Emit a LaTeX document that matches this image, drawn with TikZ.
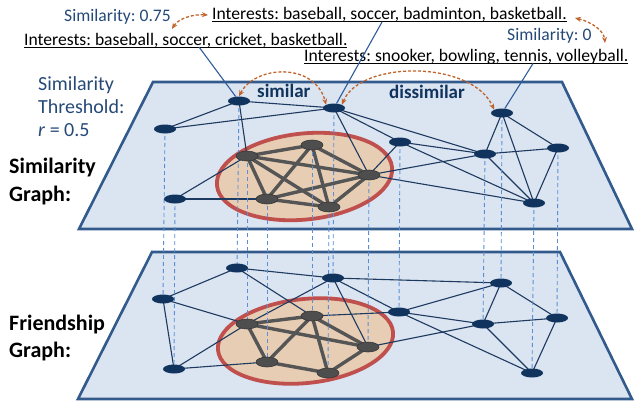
\documentclass[tikz,border=0pt]{standalone}
\usepackage{fontspec}
\setmainfont{Carlito}
\frenchspacing
\usetikzlibrary{arrows.meta,shapes.geometric}
\definecolor{planefill}{RGB}{219,228,241}
\definecolor{planeline}{RGB}{50,90,140}
\definecolor{navy}{RGB}{16,52,94}
\definecolor{edgec}{RGB}{30,58,96}
\definecolor{cliquec}{RGB}{85,85,85}
\definecolor{cliquen}{RGB}{78,78,78}
\definecolor{tanfill}{RGB}{230,205,180}
\definecolor{redline}{RGB}{192,80,77}
\definecolor{dashc}{RGB}{91,142,214}
\definecolor{orangec}{RGB}{192,98,42}
\definecolor{txtblue}{RGB}{38,74,120}
\definecolor{ptrc}{RGB}{46,92,154}
\newcommand\myul[1]{\setbox0\hbox{#1}\rlap{\rule[-2.6pt]{\wd0}{1.1pt}}\box0}
\tikzset{
  plane/.style={draw=planeline, fill=planefill, line width=2.6pt, line join=miter},
  clus/.style={draw=redline, fill=tanfill, line width=3.8pt},
  vn/.style={ellipse, fill=navy, minimum width=22pt, minimum height=9pt, inner sep=0},
  cn/.style={ellipse, fill=cliquen, draw=cliquen!70!black, line width=0.6pt, minimum width=22pt, minimum height=10pt, inner sep=0},
  ed/.style={draw=edgec, line width=1.1pt},
  ced/.style={draw=cliquec, line width=3.4pt},
  vdash/.style={draw=dashc, line width=0.9pt, dash pattern=on 4pt off 3pt},
  simarc/.style={draw=orangec, line width=1.3pt, dash pattern=on 3pt off 2pt, {Stealth[length=6pt,width=5pt]}-{Stealth[length=6pt,width=5pt]}},
  ptr/.style={draw=ptrc, line width=1.1pt},
  txt/.style={font=\fontsize{17.6}{20}\selectfont, inner sep=0, anchor=base west},
  thr/.style={font=\fontsize{20}{23}\selectfont, inner sep=0, anchor=base west, text=txtblue},
  gl/.style={font=\fontsize{22}{25}\selectfont\bfseries, inner sep=0, anchor=base west},
  sl/.style={font=\fontsize{19}{22}\selectfont\bfseries, inner sep=0, anchor=base west, text=navy},
}
\begin{document}
\begin{tikzpicture}[x=1pt,y=-1pt]
\useasboundingbox (0,0) rectangle (634,405);
% planes
\draw[plane] (153,82) -- (562,82) -- (632,229) -- (79,229) -- cycle;
\draw[plane] (152,252) -- (560,252) -- (632,399) -- (78,399) -- cycle;
% cluster ellipses
\draw[clus, rotate around={6:(304.5,176.5)}] (304.5,176.5) ellipse (88pt and 43pt);
\draw[clus, rotate around={6:(305.5,341)}] (305.5,341) ellipse (88pt and 42pt);
% node coordinates (upper)
\path
 (239,101) coordinate (A)
 (334,108) coordinate (B)
 (165,129) coordinate (C)
 (175,199) coordinate (D)
 (247,156) coordinate (E)
 (312,145) coordinate (F)
 (369,175) coordinate (G)
 (267,199) coordinate (H)
 (329,207) coordinate (I)
 (400,142) coordinate (J)
 (502,113) coordinate (K)
 (485,154) coordinate (L)
 (558,148) coordinate (M)
 (534,203) coordinate (N);
% lower
\path
 (237,268) coordinate (A2)
 (333,278) coordinate (B2)
 (163,299) coordinate (C2)
 (174,369) coordinate (D2)
 (247,324) coordinate (E2)
 (312,316) coordinate (F2)
 (368,347) coordinate (G2)
 (267,362) coordinate (H2)
 (328,373) coordinate (I2)
 (399,312) coordinate (J2)
 (501,283) coordinate (K2)
 (483,324) coordinate (L2)
 (557,318) coordinate (M2)
 (532,373) coordinate (N2);
% upper edges
\foreach \u/\v in {A/B,A/C,A/E,C/B,D/E,D/H,B/G,B/J,B/L,G/J,G/L,G/N,J/L,J/N,K/L,K/M,K/N,L/M,L/N,M/N}
  \draw[ed] (\u) -- (\v);
\foreach \u/\v in {E/F,E/G,E/H,E/I,F/G,F/H,F/I,G/H,G/I,H/I}
  \draw[ced] (\u) -- (\v);
% lower edges
\foreach \u/\v in {C2/A2,C2/D2,C2/E2,A2/B2,A2/F2,D2/E2,D2/H2,B2/E2,B2/G2,B2/J2,B2/K2,F2/J2,G2/L2,J2/K2,J2/L2,J2/N2,K2/L2,K2/M2,L2/M2,L2/N2,M2/N2}
  \draw[ed] (\u) -- (\v);
\foreach \u/\v in {E2/F2,E2/G2,E2/H2,F2/H2,F2/I2,F2/G2,G2/I2,H2/I2}
  \draw[ced] (\u) -- (\v);
% vertical dashed correspondences
\foreach \n in {A,B,C,D,E,F,G,H,I,J,K,L,M,N}
  \draw[vdash] (\n) -- (\n2);
% nodes
\foreach \n in {A,B,C,D,J,K,L,M,N} {
  \node[vn] (n\n) at (\n) {};
  \node[vn] (n\n2) at (\n2) {};
}
\foreach \n in {E,F,G,H,I} {
  \node[cn] (n\n) at (\n) {};
  \node[cn] (n\n2) at (\n2) {};
}
% texts
\node[txt, text=txtblue] (s075) at (64,21.5) {Similarity: 0.75};
\node[txt] (int1) at (212,19.5) {\myul{Interests: baseball, soccer, badminton, basketball.}};
\node[txt] (int2) at (24,45) {\myul{Interests: baseball, soccer, cricket, basketball.}};
\node[txt, text=txtblue] (s0) at (507,40.5) {Similarity: 0};
\node[txt] (int3) at (304,61) {\myul{Interests: snooker, bowling, tennis, volleyball.}};
\node[thr] (th1) at (38,90) {Similarity};
\node[thr] (th2) at (38,113) {Threshold:};
\node[thr] (th3) at (38,136) {\textit{r} = 0.5};
\node[gl] (sg1) at (9,173.5) {Similarity};
\node[gl] (sg2) at (9,201) {Graph:};
\node[gl] (fg1) at (9,330) {Friendship};
\node[gl] (fg2) at (9,357) {Graph:};
\node[sl] (simw) at (257,97) {similar};
\node[sl] (dissw) at (389,98) {dissimilar};
% pointer lines
\coordinate (p1) at (199,47);
\coordinate (p2) at (382,22);
\coordinate (p3) at (533,63.5);
\draw[ptr] (p1) -- (nA);
\draw[ptr] (p2) -- (nB);
\draw[ptr] (p3) -- (nK);
% similarity arcs
\coordinate (a1s) at (172,29);
\coordinate (a1e) at (208,15);
\draw[simarc] (a1s) .. controls (178,19) and (192,14) .. (a1e);
\coordinate (a2s) at (575,18);
\coordinate (a2e) at (605,43);
\draw[simarc] (a2s) .. controls (592,22) and (604,31) .. (a2e);
\draw[simarc] (nA.north) .. controls (255,65) and (315,62) .. (nB.north west);
\draw[simarc] (nB.north east) .. controls (360,60) and (472,60) .. (nK.north west);
\end{tikzpicture}
\end{document}
